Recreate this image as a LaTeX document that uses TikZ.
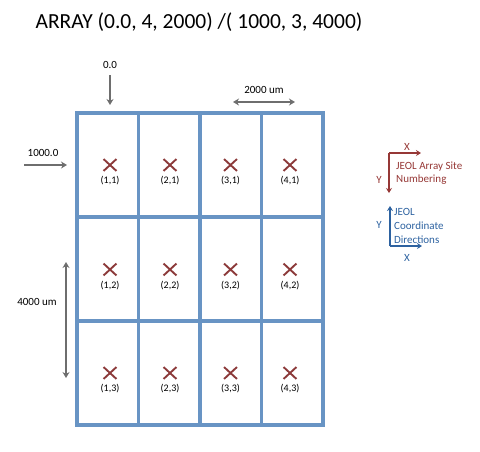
\documentclass[tikz,border=0pt]{standalone}
\usepackage{fontspec}
\setmainfont{Carlito}
\usetikzlibrary{arrows.meta,shapes.misc}
\definecolor{gridblue}{RGB}{104,148,196}
\definecolor{xred}{RGB}{140,58,58}
\definecolor{legred}{RGB}{150,56,54}
\definecolor{legblue}{RGB}{45,98,160}
\definecolor{arrgray}{RGB}{110,110,110}
\tikzset{
  cell/.style={draw=gridblue, line width=3.2pt, minimum width=61.5pt, minimum height=104pt, inner sep=0pt},
  xmark/.style={cross out, draw=xred, line width=1.9pt, minimum width=11pt, minimum height=10pt, inner sep=0pt},
  cellnum/.style={font=\fontsize{10}{11}\selectfont, inner sep=0pt},
  dimlabel/.style={font=\fontsize{11}{13}\selectfont, inner sep=0pt},
  garrow/.style={draw=arrgray, line width=1.7pt, -{Stealth[length=6pt,width=7pt]}},
  gdarrow/.style={draw=arrgray, line width=1.7pt, {Stealth[length=6pt,width=7pt]}-{Stealth[length=6pt,width=7pt]}},
  redarrow/.style={draw=legred, line width=1.7pt, -{Stealth[length=5pt,width=6pt]}},
  bluearrow/.style={draw=legblue, line width=1.7pt, -{Stealth[length=5pt,width=6pt]}},
  legtext/.style={font=\fontsize{11}{13}\selectfont, inner sep=0pt, align=left},
}
\begin{document}
\begin{tikzpicture}[x=1pt,y=-1pt]
\useasboundingbox (0,0) rectangle (480,451);
% title
\node[font=\fontsize{21.5}{24}\selectfont, inner sep=0pt] (title) at (199,22) {ARRAY (0.0, 4, 2000) /( 1000, 3, 4000)};
% grid cells
\foreach \i in {1,...,4}{
  \foreach \j in {1,...,3}{
    \node[cell] (c\i\j) at ({77+61.5*(\i-0.5)},{113+104*(\j-0.5)}) {};
  }
}
% crosses and site labels
\foreach \i/\xx in {1/110,2/170,3/230.5,4/290}{
  \foreach \j/\yy in {1/165,2/269.5,3/373}{
    \node[xmark] (x\i\j) at (\xx,\yy) {};
    \node[cellnum] (l\i\j) at (\xx,\yy+16) {(\i,\j)};
  }
}
% dimension arrows
\node[dimlabel] (t00) at (110,65) {0.0};
\coordinate (a00s) at (110,75);
\coordinate (a00e) at (110,105);
\draw[garrow] (a00s) -- (a00e);

\node[dimlabel] (t2000) at (264,90) {2000 um};
\coordinate (a2000l) at (233,102);
\coordinate (a2000r) at (295,102);
\draw[gdarrow] (a2000l) -- (a2000r);

\node[dimlabel] (t1000) at (43,153) {1000.0};
\coordinate (a1000s) at (24,165);
\coordinate (a1000e) at (67,165);
\draw[garrow] (a1000s) -- (a1000e);

\node[dimlabel] (t4000) at (37,302) {4000 um};
\coordinate (a4000t) at (66,262);
\coordinate (a4000b) at (66,378);
\draw[gdarrow] (a4000t) -- (a4000b);

% legend: JEOL array site numbering
\coordinate (rc) at (389,153);
\coordinate (rx) at (421,153);
\coordinate (ry) at (389,193);
\draw[redarrow] (rc) -- (rx);
\draw[redarrow] (rc) -- (ry);
\node[legtext, text=legred] (rX) at (407,147) {X};
\node[legtext, text=legred] (rY) at (379,180) {Y};
\node[legtext, text=legred, anchor=west] (rT1) at (396,167) {JEOL Array Site};
\node[legtext, text=legred, anchor=west] (rT2) at (396,180) {Numbering};

% legend: JEOL coordinate directions
\coordinate (bc) at (390,246);
\coordinate (by) at (390,206);
\coordinate (bx) at (422,246);
\draw[bluearrow] (bc) -- (by);
\draw[bluearrow] (bc) -- (bx);
\node[legtext, text=legblue] (bY) at (379,225) {Y};
\node[legtext, text=legblue] (bX) at (407,258) {X};
\node[legtext, text=legblue, anchor=west] (bT1) at (394,212) {JEOL};
\node[legtext, text=legblue, anchor=west] (bT2) at (394,226) {Coordinate};
\node[legtext, text=legblue, anchor=west] (bT3) at (394,240) {Directions};
\end{tikzpicture}
\end{document}
